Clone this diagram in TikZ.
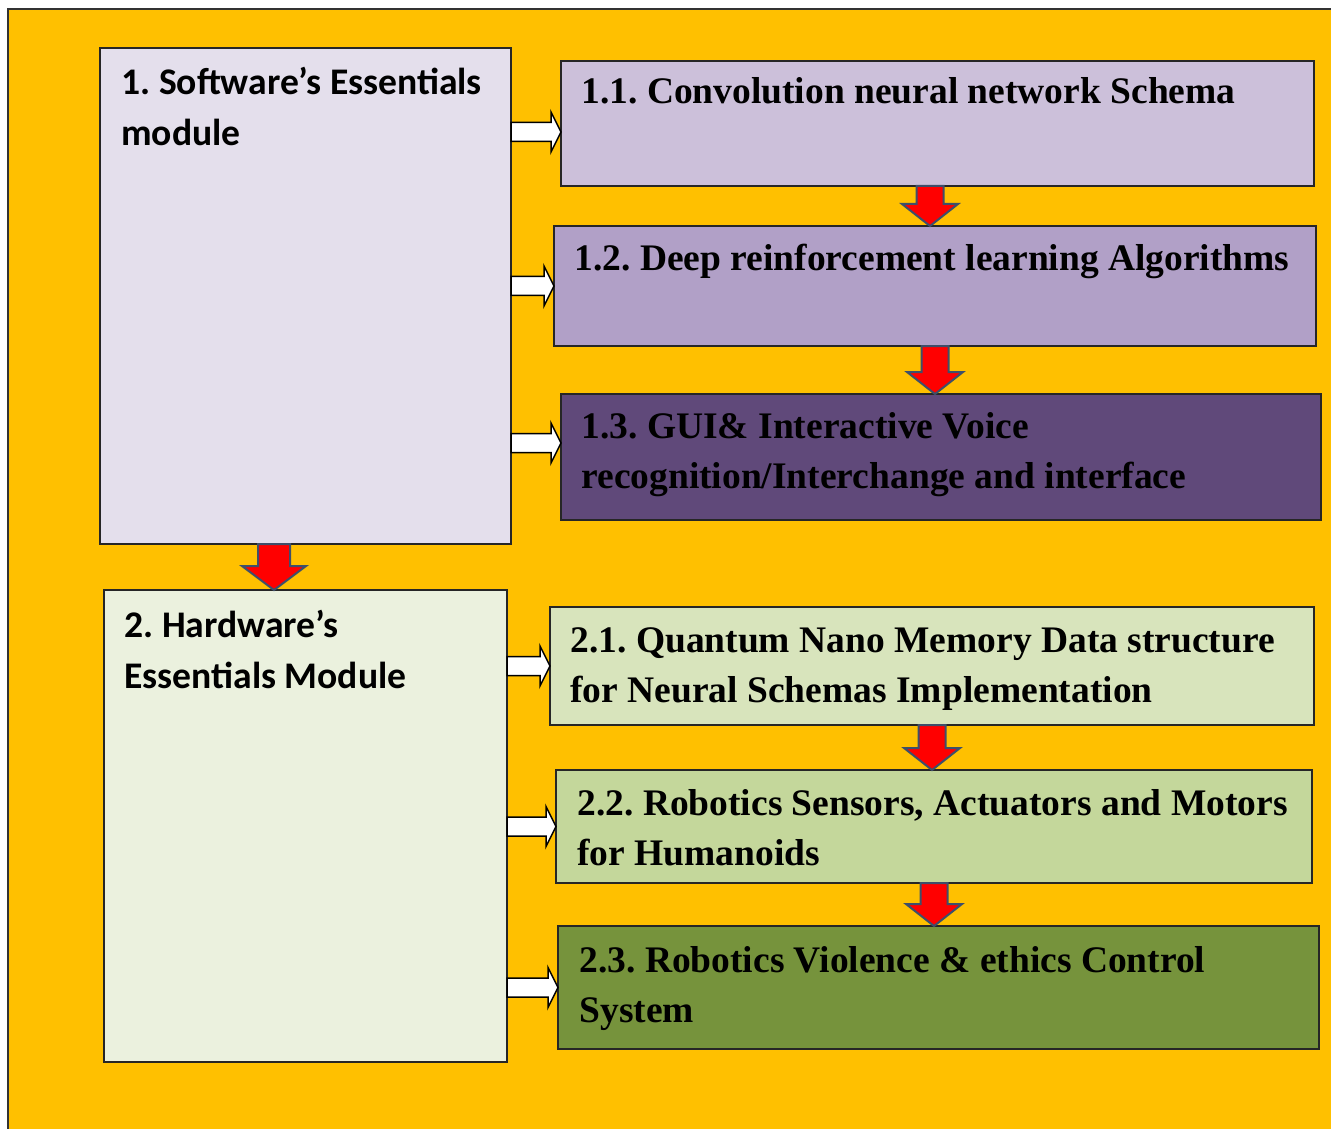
\documentclass[tikz,border=0pt]{standalone}
\usepackage{fontspec}
\setmainfont{Liberation Serif}
\newfontfamily\calfont{Carlito}
\usepackage{tikz}
\usetikzlibrary{calc}
\frenchspacing

\definecolor{framefill}{HTML}{FFC000}
\definecolor{swfill}{HTML}{E4DFEC}
\definecolor{cafill}{HTML}{CCC0DA}
\definecolor{cbfill}{HTML}{B1A0C7}
\definecolor{ccfill}{HTML}{60497A}
\definecolor{hwfill}{HTML}{EBF1DE}
\definecolor{hafill}{HTML}{D8E4BC}
\definecolor{hbfill}{HTML}{C4D79B}
\definecolor{hcfill}{HTML}{76933C}
\definecolor{arrowline}{HTML}{3E4F6A}

\tikzset{
  box/.style={rectangle,draw=black!85,line width=0.6pt,inner sep=0pt,outer sep=0pt},
  serlabel/.style={anchor=base west,align=left,inner sep=0pt,font=\bfseries\fontsize{18.75}{25}\selectfont},
  callabel/.style={anchor=base west,align=left,inner sep=0pt,font=\calfont\bfseries\fontsize{18.8}{25.5}\selectfont},
  warrow/.style={draw=black,fill=white,line width=0.75pt,line join=miter,
    to path={let \p1=(\tikztostart), \p2=(\tikztotarget) in
      (\x1,\y2+4.75pt) -- (\x2-5pt,\y2+4.75pt) -- (\x2-5pt,\y2+10pt) -- (\x2,\y2)
      -- (\x2-5pt,\y2-10pt) -- (\x2-5pt,\y2-4.75pt) -- (\x1,\y2-4.75pt) -- cycle}},
  rarrow/.style n args={3}{draw=arrowline,fill=red,line width=1pt,line join=miter,
    to path={let \p1=(\tikztostart), \p2=(\tikztotarget) in
      (\x1-#1,\y1) -- (\x1-#1,\y2+#3) -- (\x1-#2,\y2+#3) -- (\x1,\y2)
      -- (\x1+#2,\y2+#3) -- (\x1+#1,\y2+#3) -- (\x1+#1,\y1) -- cycle}}
}

\begin{document}
\begin{tikzpicture}[x=0.5pt,y=-0.5pt]
\clip (0,0) rectangle (1331,1128);
\fill[framefill,draw=black!80,line width=1pt] (8,9) rectangle (1345,1145);
% Boxes
\node at (305.5,296) [box,fill=swfill,minimum width=205.5pt,minimum height=248pt] (sw) {};
\node at (937.5,123.5) [box,fill=cafill,minimum width=376.5pt,minimum height=62.5pt] (ca) {};
\node at (935,286) [box,fill=cbfill,minimum width=381pt,minimum height=60pt] (cb) {};
\node at (941,457) [box,fill=ccfill,minimum width=380pt,minimum height=63pt] (cc) {};
\node at (305.5,826) [box,fill=hwfill,minimum width=201.5pt,minimum height=236pt] (hw) {};
\node at (932,666) [box,fill=hafill,minimum width=382pt,minimum height=59pt] (ha) {};
\node at (934,826.5) [box,fill=hbfill,minimum width=378pt,minimum height=56.5pt] (hb) {};
\node at (938.5,987.5) [box,fill=hcfill,minimum width=380.5pt,minimum height=61.5pt] (hc) {};
% Arrow Points
\coordinate (pa) at ([yshift=-4.25pt]ca.west);
\coordinate (pc) at ([yshift=7pt]cc.west);
\coordinate (da) at ([xshift=-3.75pt]ca.south);
\coordinate (ds) at ([xshift=-15.75pt]sw.south);
% Box Connections
\draw [warrow] (sw.east |- pa) to (pa);
\draw [warrow] (sw.east |- cb.west) to (cb.west);
\draw [warrow] (sw.east |- pc) to (pc);
\draw [warrow] (hw.east |- ha.west) to (ha.west);
\draw [warrow] (hw.east |- hb.west) to (hb.west);
\draw [warrow] (hw.east |- hc.west) to (hc.west);
\draw [rarrow={6.75pt}{14pt}{11pt}] (da) to (da |- cb.north);
\draw [rarrow={6.75pt}{14pt}{11pt}] (cb.south) to (cb.south |- cc.north);
\draw [rarrow={6.75pt}{14pt}{11pt}] (ha.south) to (ha.south |- hb.north);
\draw [rarrow={6.75pt}{14pt}{11pt}] (hb.south) to (hb.south |- hc.north);
\draw [rarrow={8pt}{16pt}{12pt}] (ds) to (ds |- hw.north);
% Box Labels (two-line labels sit on their last baseline)
\node at (121,146) [callabel] (sw-t) {1. Software’s Essentials\\module};
\node at (581,104) [serlabel] (ca-t) {1.1. Convolution neural network Schema};
\node at (574,271) [serlabel] (cb-t) {1.2. Deep reinforcement learning Algorithms};
\node at (581,488) [serlabel] (cc-t) {1.3. GUI\& Interactive Voice\\recognition/Interchange and interface};
\node at (124,688) [callabel] (hw-t) {2. Hardware’s\\Essentials Module};
\node at (570,702) [serlabel] (ha-t) {2.1. Quantum Nano Memory Data structure\\for Neural Schemas Implementation};
\node at (577,865) [serlabel] (hb-t) {2.2. Robotics Sensors, Actuators and Motors\\for Humanoids};
\node at (579,1022) [serlabel] (hc-t) {2.3. Robotics Violence \& ethics Control\\System};

\end{tikzpicture}
\end{document}
